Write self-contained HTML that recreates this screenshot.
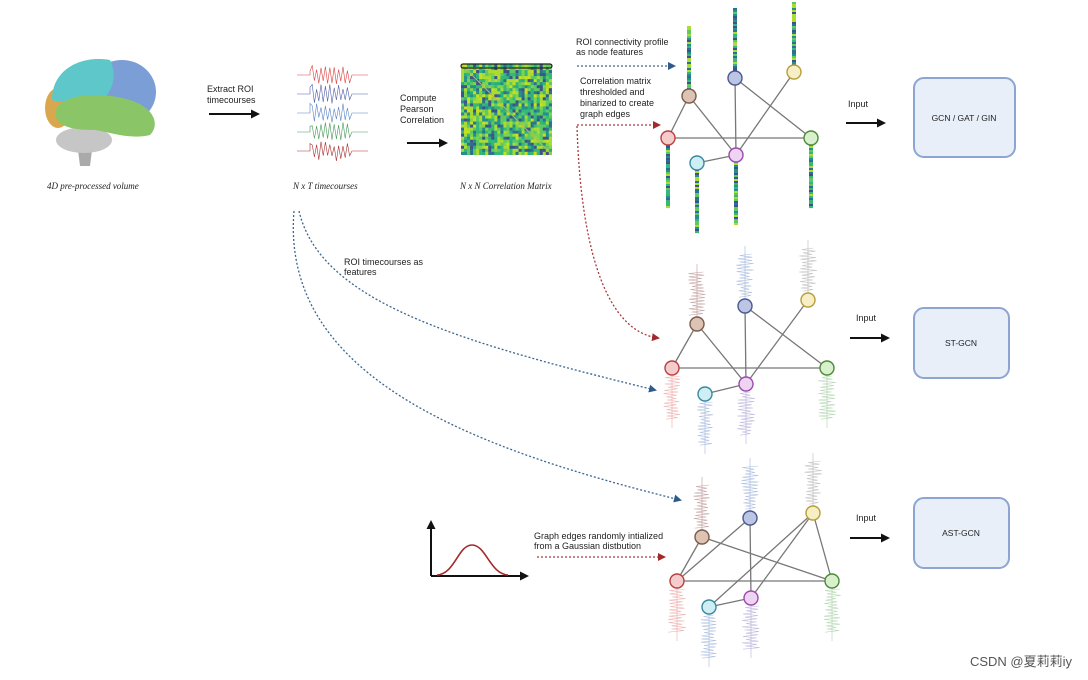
<!DOCTYPE html>
<html><head><meta charset="utf-8"><style>
html,body{margin:0;padding:0;background:#fff;width:1088px;height:680px;overflow:hidden}
svg{display:block}
text{font-family:"Liberation Sans",sans-serif;font-size:9px;fill:#222}
.it{font-family:"Liberation Serif",serif;font-style:italic;font-size:9px}
.box{fill:#e9eff9;stroke:#8ea4d3;stroke-width:2}
.e{stroke:#777;stroke-width:1.3}
.db{stroke:#3d6590;stroke-width:1.3;stroke-dasharray:2 2;fill:none}
.dr{stroke:#a83a3a;stroke-width:1.3;stroke-dasharray:2 2;fill:none}
</style></head><body>
<svg id="s" width="1088" height="680" viewBox="0 0 1088 680" xmlns="http://www.w3.org/2000/svg">
<defs>
<marker id="ab" markerWidth="8" markerHeight="8" refX="6" refY="4" orient="auto" markerUnits="userSpaceOnUse"><path d="M0,0 L8,4 L0,8z" fill="#2f5b8a"/></marker>
<marker id="ar" markerWidth="8" markerHeight="8" refX="6" refY="4" orient="auto" markerUnits="userSpaceOnUse"><path d="M0,0 L8,4 L0,8z" fill="#a32a2a"/></marker>
<marker id="ak" markerWidth="9" markerHeight="9" refX="7" refY="4.5" orient="auto" markerUnits="userSpaceOnUse"><path d="M0,0 L9,4.5 L0,9z" fill="#111"/></marker>
</defs>
<!-- brain -->
<g>
<path d="M78,150 L92,150 L90,166 L80,166z" fill="#aaa"/>
<ellipse cx="84" cy="140" rx="28" ry="13" fill="#c6c6c6"/>
<ellipse cx="58" cy="108" rx="13" ry="20" fill="#d9a84e"/>
<ellipse cx="122" cy="92" rx="34" ry="32" fill="#7b9ed6"/>
<path d="M52,100 C52,70 80,55 110,60 C118,75 112,95 100,100 C80,100 65,105 52,100z" fill="#5ec7c9"/>
<path d="M55,112 C60,95 95,90 130,100 C155,108 160,125 150,135 C130,140 110,132 95,130 C75,130 56,128 55,112z" fill="#8ac667"/>
</g>
<text class="it" x="47" y="189">4D pre-processed volume</text>
<text x="207" y="92">Extract ROI</text><text x="207" y="103">timecourses</text>
<line x1="209" y1="114" x2="258" y2="114" stroke="#111" stroke-width="2" marker-end="url(#ak)"/>
<g id="tc"></g>
<text class="it" x="293" y="189">N x T timecourses</text>
<text x="400" y="101">Compute</text><text x="400" y="112">Pearson</text><text x="400" y="123">Correlation</text>
<line x1="407" y1="143" x2="446" y2="143" stroke="#111" stroke-width="2" marker-end="url(#ak)"/>
<g id="mat"></g>
<rect x="461" y="64" width="91" height="4" rx="2" fill="none" stroke="#222" stroke-width="1.2"/>
<text class="it" x="460" y="189">N x N Correlation Matrix</text>

<text x="576" y="45">ROI connectivity profile</text><text x="576" y="55">as node features</text>
<line class="db" x1="577" y1="66" x2="674" y2="66" marker-end="url(#ab)"/>
<text x="580" y="84">Correlation matrix</text><text x="580" y="95">thresholded and</text><text x="580" y="106">binarized to create</text><text x="580" y="117">graph edges</text>
<line class="dr" x1="577" y1="125" x2="659" y2="125" marker-end="url(#ar)"/>
<path class="dr" d="M577,126 C580,230 600,330 658,338" marker-end="url(#ar)"/>
<path class="db" d="M299,211 C320,300 450,340 655,390" marker-end="url(#ab)"/>
<path class="db" d="M294,211 C280,380 480,450 680,500" marker-end="url(#ab)"/>
<text x="344" y="265">ROI timecourses as</text><text x="344" y="275">features</text>

<!-- gaussian -->
<line x1="431" y1="576" x2="431" y2="522" stroke="#111" stroke-width="2" marker-end="url(#ak)"/>
<line x1="431" y1="576" x2="527" y2="576" stroke="#111" stroke-width="2" marker-end="url(#ak)"/>
<path d="M437,575 C455,574 458,545 472,545 C486,545 490,574 508,575" fill="none" stroke="#a32a2a" stroke-width="1.6"/>
<text x="534" y="539">Graph edges randomly intialized</text><text x="534" y="549">from a Gaussian distbution</text>
<line class="dr" x1="537" y1="557" x2="664" y2="557" marker-end="url(#ar)"/>

<g id="graphs"></g>

<text x="848" y="107">Input</text>
<line x1="846" y1="123" x2="884" y2="123" stroke="#111" stroke-width="2" marker-end="url(#ak)"/>
<rect class="box" x="914" y="78" width="101" height="79" rx="10"/>
<text x="964" y="121" text-anchor="middle" style="font-size:8.5px">GCN / GAT / GIN</text>
<text x="856" y="321">Input</text>
<line x1="850" y1="338" x2="888" y2="338" stroke="#111" stroke-width="2" marker-end="url(#ak)"/>
<rect class="box" x="914" y="308" width="95" height="70" rx="10"/>
<text x="961" y="346" text-anchor="middle" style="font-size:8.5px">ST-GCN</text>
<text x="856" y="521">Input</text>
<line x1="850" y1="538" x2="888" y2="538" stroke="#111" stroke-width="2" marker-end="url(#ak)"/>
<rect class="box" x="914" y="498" width="95" height="70" rx="10"/>
<text x="961" y="536" text-anchor="middle" style="font-size:8.5px">AST-GCN</text>
<text x="1072" y="666" text-anchor="end" style="font-size:13px;fill:#555;font-family:'Liberation Sans','Noto Sans CJK SC',sans-serif">CSDN @夏莉莉iy</text>
</svg>
<script>
var NS="http://www.w3.org/2000/svg";
function el(p,t,a){var e=document.createElementNS(NS,t);for(var k in a)e.setAttribute(k,a[k]);p.appendChild(e);return e;}
var seed=7;function r(){seed=(seed*16807)%2147483647;return seed/2147483647;}
var tc=document.getElementById('tc');
var cols=['#d44','#5560a8','#5a86c5','#4a9a5a','#a33'];
for(var i=0;i<5;i++){var y0=75+i*19;var pts='297,'+y0+' 310,'+y0;for(var x=310;x<350;x+=2.2){pts+=' '+x.toFixed(1)+','+(y0+(((x-310)/2.2)%2<1?-1:1)*(4+r()*6)).toFixed(1);}pts+=' 352,'+y0+' 368,'+y0;el(tc,'polyline',{points:pts,fill:'none',stroke:cols[i],'stroke-width':0.6});}
var m=document.getElementById('mat');
var mc=['#3b528b','#2d6f8e','#21908d','#28ae80','#35b779','#35b779','#5ec962','#5ec962','#7fd34e','#aadc32','#aadc32','#c8e020'];
el(m,'rect',{x:461,y:64,width:91,height:91,fill:'#5ec962'});
for(var a=0;a<30;a++)for(var b=0;b<30;b++){el(m,'rect',{x:461+a*3.03,y:64+b*3.03,width:3.1,height:3.1,fill:mc[Math.floor(r()*mc.length)]});}
el(m,'line',{x1:461,y1:64,x2:552,y2:155,stroke:'#c9b24a','stroke-width':1});
var g=document.getElementById('graphs');
var fills={br:['#dcc3b3','#7a5a48'],bl:['#bcc5e3','#4a5890'],ye:['#f6efc6','#b89d3a'],re:['#f5cccc','#b84040'],gr:['#d8f0cc','#4a8a3a'],pi:['#efd3f3','#9a4aaa'],cy:['#cdeef2','#3a88a0']};
var wc={br:'#c09a9a',bl:'#a3b8dc',ye:'#bbb',re:'#eeaaaa',gr:'#acd2ac',pi:'#b8b0d8',cy:'#a3b8dc'};
var bc=['#2d6f8e','#21908d','#35b779','#5ec962','#aadc32','#3b528b'];
function bar(x,y1,y2){for(var y=y1;y<y2;y+=2)el(g,'rect',{x:x-2,y:y,width:4,height:2.1,fill:bc[Math.floor(r()*bc.length)]});}
function wave(x,y1,y2,c){el(g,'line',{x1:x,y1:y1,x2:x,y2:y2,stroke:c,'stroke-width':0.6});var pts='';var k=0;for(var y=y1+8;y<y2-8;y+=1.6){pts+=' '+(x+(k++%2?-1:1)*(4+r()*5)).toFixed(1)+','+y.toFixed(1);}el(g,'polyline',{points:pts,fill:'none',stroke:c,'stroke-width':0.6,opacity:0.85});}
function graph(N,E,feat){
 for(var k in N){var n=N[k];var isUp=(k=='br'||k=='bl'||k=='ye');var L=feat=='bar'?70:60;
  if(feat=='bar'){if(isUp)bar(n[0],n[1]-L,n[1]);else bar(n[0],n[1],n[1]+L);}
  else{if(isUp)wave(n[0],n[1]-L,n[1],wc[k]);else wave(n[0],n[1],n[1]+L,wc[k]);}}
 E.forEach(function(e){el(g,'line',{x1:N[e[0]][0],y1:N[e[0]][1],x2:N[e[1]][0],y2:N[e[1]][1],'class':'e'});});
 for(var k in N){el(g,'circle',{cx:N[k][0],cy:N[k][1],r:7,fill:fills[k][0],stroke:fills[k][1],'stroke-width':1.4});}
}
var E1=[['br','re'],['br','pi'],['bl','pi'],['bl','gr'],['ye','pi'],['re','gr'],['cy','pi']];
graph({br:[689,96],bl:[735,78],ye:[794,72],re:[668,138],gr:[811,138],pi:[736,155],cy:[697,163]},E1,'bar');
graph({br:[697,324],bl:[745,306],ye:[808,300],re:[672,368],gr:[827,368],pi:[746,384],cy:[705,394]},E1,'wave');
graph({br:[702,537],bl:[750,518],ye:[813,513],re:[677,581],gr:[832,581],pi:[751,598],cy:[709,607]},
 [['br','re'],['br','gr'],['bl','re'],['bl','pi'],['ye','cy'],['ye','pi'],['ye','gr'],['re','gr'],['cy','pi']],'wave');
</script>
</body></html>
